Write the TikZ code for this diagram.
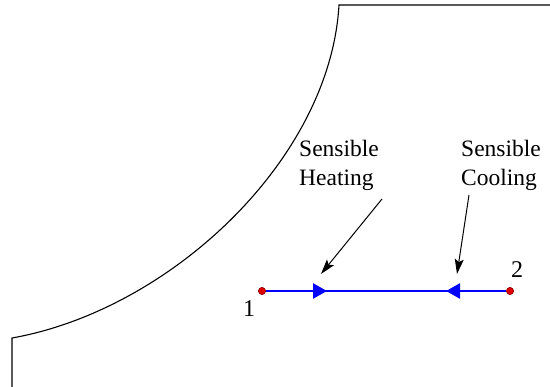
\documentclass[tikz,border=0pt]{standalone}
\usepackage{fontspec}
\setmainfont{Liberation Serif}
\usepackage{xcolor}
\usetikzlibrary{arrows.meta}
\definecolor{pathblue}{HTML}{0000FF}
\definecolor{ptred}{HTML}{E00000}
\tikzset{
  satcurve/.style={line width=1.1pt, black},
  process/.style={line width=2.6pt, pathblue},
  flowtip/.style={-{Triangle[length=14pt, width=15pt]}, line width=2.6pt, pathblue},
  statept/.style={circle, draw=ptred!60!black, fill=ptred, line width=0.5pt, inner sep=0pt, minimum size=7pt},
  leader/.style={-{Stealth[length=15pt, width=9pt, inset=3pt]}, line width=1pt, black},
  lbl/.style={align=left, font=\fontsize{23.5}{29}\selectfont, inner sep=0pt},
  numlbl/.style={font=\fontsize{24}{28}\selectfont, inner sep=0pt},
}

\begin{document}
\begin{tikzpicture}[x=1pt, y=-1pt]
\useasboundingbox (0,0) rectangle (550,387);
% saturation boundary
\draw[satcurve] (12,387) -- (12,338) .. controls (170,310) and (330,160) .. (339,5) -- (550,5);
% states and process line
\node[statept] (p1) at (262,291) {};
\node[statept] (p2) at (510,291) {};
\coordinate (heattip) at (327,291);
\coordinate (cooltip) at (446,291);
\draw[process] (p1) -- (p2);
\draw[flowtip] (p1) -- (heattip);
\draw[flowtip] (p2) -- (cooltip);
\node[statept] at (p1) {};
\node[statept] at (p2) {};
\node[numlbl] (n1) at (249,309) {1};
\node[numlbl] (n2) at (517,270) {2};
% labels and leaders
\node[lbl, anchor=north west] (heatlbl) at (299,140) {Sensible\\Heating};
\node[lbl, anchor=north west] (coollbl) at (461,140) {Sensible\\Cooling};
\coordinate (heatstart) at (382,199);
\coordinate (heatend) at (321,274);
\coordinate (coolstart) at (469,195);
\coordinate (coolend) at (457,274);
\draw[leader] (heatstart) -- (heatend);
\draw[leader] (coolstart) -- (coolend);
\end{tikzpicture}
\end{document}
